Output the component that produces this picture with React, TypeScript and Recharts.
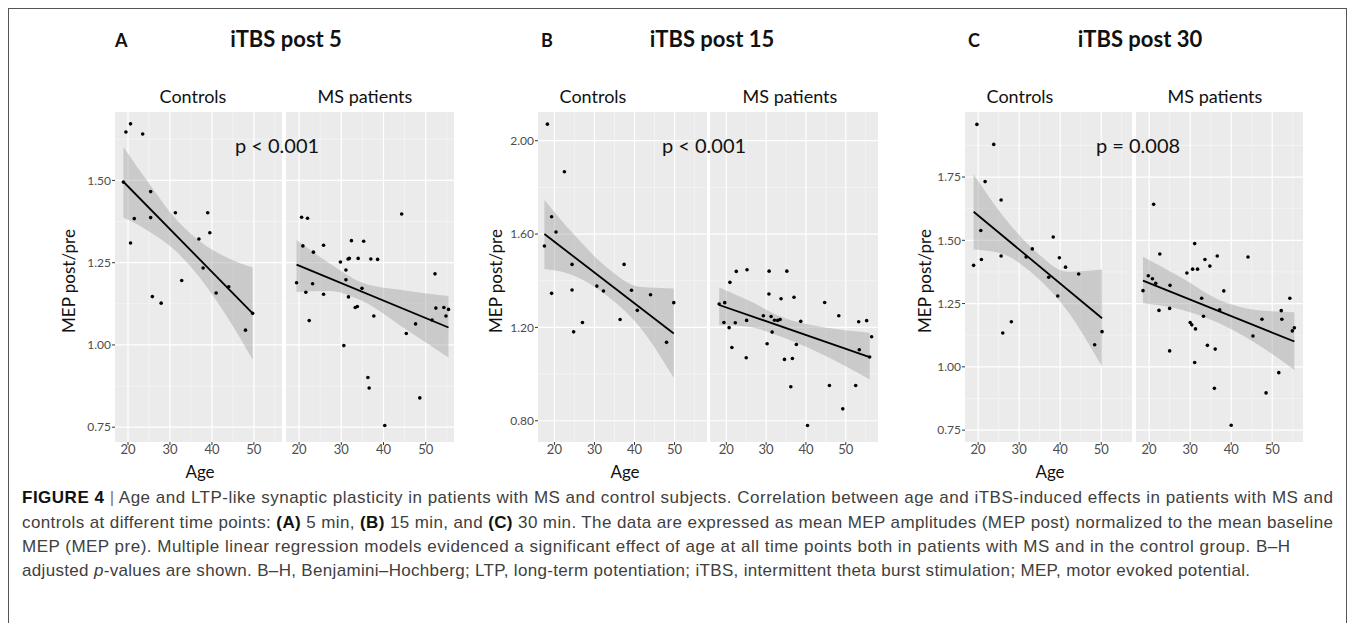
import React from 'react'
import { ComposedChart, Area, Line, Scatter, XAxis, YAxis, CartesianGrid } from 'recharts'

// shared axis ticks
const xTicks = [20, 30, 40, 50]
const xMinor = [25, 35, 45, 55]

// Panel A - iTBS post 5
const aTicks = [0.75, 1.0, 1.25, 1.5]
const aMinor = [0.875, 1.125, 1.375, 1.625]
const aCtrlAge = [19.5, 20.6, 23.5, 18.9, 21.5, 20.6, 25.4, 25.4, 25.8, 27.9, 31.3, 32.8, 36.9, 37.9, 39.0, 39.5, 41.0, 44.0, 48.0, 49.7]
const aCtrlMep = [1.647, 1.672, 1.641, 1.495, 1.384, 1.31, 1.466, 1.387, 1.147, 1.127, 1.402, 1.196, 1.322, 1.234, 1.402, 1.341, 1.158, 1.177, 1.045, 1.096]
const aCtrlBandAge = [18.9, 25.4, 31.3, 37.4, 43.8, 49.7]
const aCtrlBandLo = [1.387, 1.342, 1.286, 1.2, 1.082, 0.955]
const aCtrlBandHi = [1.602, 1.484, 1.384, 1.312, 1.264, 1.235]
const aCtrlFit = [1.496, 1.096]
const aMsAge = [20.6, 22.0, 20.9, 19.4, 21.6, 22.4, 23.4, 23.2, 25.8, 25.8, 29.8, 30.6, 31.1, 31.1, 31.6, 31.9, 31.7, 32.4, 33.3, 33.8, 34.0, 34.9, 35.3, 36.3, 36.6, 37.0, 37.7, 38.6, 40.3, 44.3, 45.4, 47.6, 48.6, 52.2, 52.4, 54.3, 54.8, 55.4, 51.5]
const aMsMep = [1.388, 1.385, 1.301, 1.189, 1.16, 1.074, 1.282, 1.186, 1.303, 1.154, 1.252, 0.998, 1.228, 1.198, 1.261, 1.263, 1.146, 1.317, 1.114, 1.117, 1.263, 1.172, 1.315, 0.901, 0.869, 1.261, 1.088, 1.26, 0.755, 1.398, 1.035, 1.064, 0.839, 1.216, 1.112, 1.114, 1.088, 1.108, 1.076]
const aMsBandAge = [19.4, 27.0, 34.9, 44.3, 55.4]
const aMsBandLo = [1.161, 1.164, 1.134, 1.056, 0.962]
const aMsBandHi = [1.319, 1.25, 1.19, 1.167, 1.149]
const aMsFit = [1.244, 1.053]

// Panel B - iTBS post 15
const bTicks = [0.8, 1.2, 1.6, 2.0]
const bMinor = [1.0, 1.4, 1.8]
const bCtrlAge = [18.25, 22.5, 17.5, 19.3, 20.4, 19.3, 24.4, 24.4, 24.8, 27.0, 30.6, 32.25, 36.4, 37.4, 39.25, 40.7, 44.0, 48.0, 49.8]
const bCtrlMep = [2.071, 1.867, 1.549, 1.674, 1.609, 1.346, 1.47, 1.36, 1.181, 1.221, 1.377, 1.356, 1.234, 1.47, 1.359, 1.273, 1.34, 1.136, 1.306]
const bCtrlBandAge = [17.5, 24.6, 32.9, 41.25, 49.8]
const bCtrlBandLo = [1.45, 1.424, 1.339, 1.203, 0.984]
const bCtrlBandHi = [1.746, 1.603, 1.46, 1.374, 1.367]
const bCtrlFit = [1.6, 1.174]
const bMsAge = [18.2, 19.6, 20.9, 19.4, 20.7, 22.25, 21.4, 22.5, 25.2, 25.1, 25.0, 29.3, 30.25, 30.7, 30.75, 31.25, 31.5, 32.1, 32.9, 33.5, 33.75, 34.6, 35.2, 36.6, 37.0, 37.6, 36.2, 38.7, 40.4, 44.7, 45.9, 48.25, 49.25, 52.5, 53.25, 53.4, 55.25, 56.0, 56.5]
const bMsMep = [1.3, 1.306, 1.393, 1.221, 1.199, 1.22, 1.114, 1.44, 1.447, 1.23, 1.07, 1.25, 1.13, 1.343, 1.441, 1.247, 1.18, 1.231, 1.23, 1.234, 1.323, 1.063, 1.441, 1.067, 1.329, 1.127, 0.946, 1.226, 0.78, 1.307, 0.951, 1.25, 0.851, 0.951, 1.224, 1.104, 1.229, 1.073, 1.16]
const bMsBandAge = [18.2, 25.4, 33.75, 46.25, 56.0]
const bMsBandLo = [1.21, 1.203, 1.16, 1.067, 0.977]
const bMsBandHi = [1.371, 1.317, 1.246, 1.196, 1.177]
const bMsFit = [1.296, 1.073]

// Panel C - iTBS post 30
const cTicks = [0.75, 1.0, 1.25, 1.5, 1.75]
const cMinor = [0.875, 1.125, 1.375, 1.625, 1.875]
const cCtrlAge = [19.7, 23.8, 21.7, 25.6, 18.9, 20.65, 20.8, 25.6, 26.0, 28.1, 31.7, 33.2, 37.2, 38.3, 39.4, 39.8, 41.3, 44.5, 48.4, 50.2]
const cCtrlMep = [1.958, 1.879, 1.732, 1.659, 1.401, 1.539, 1.424, 1.438, 1.134, 1.178, 1.434, 1.466, 1.354, 1.513, 1.28, 1.431, 1.394, 1.367, 1.087, 1.139]
const cCtrlBandAge = [18.9, 25.6, 33.7, 41.9, 50.2]
const cCtrlBandLo = [1.464, 1.448, 1.363, 1.218, 1.001]
const cCtrlBandHi = [1.761, 1.606, 1.461, 1.376, 1.385]
const cCtrlFit = [1.613, 1.192]
const cMsAge = [21.1, 18.5, 19.8, 20.8, 21.6, 22.6, 22.4, 25.1, 25.0, 25.0, 29.2, 30.0, 30.4, 30.6, 31.1, 31.3, 31.1, 31.8, 32.8, 33.25, 33.6, 34.2, 34.8, 35.9, 36.1, 36.6, 37.2, 38.2, 40.0, 44.1, 45.3, 47.5, 48.5, 51.6, 52.2, 52.35, 54.3, 54.9, 55.4]
const cMsMep = [1.642, 1.301, 1.36, 1.348, 1.33, 1.446, 1.223, 1.322, 1.231, 1.063, 1.371, 1.175, 1.166, 1.386, 1.487, 1.15, 1.017, 1.386, 1.271, 1.2, 1.424, 1.085, 1.398, 0.915, 1.07, 1.438, 1.225, 1.3, 0.769, 1.434, 1.122, 1.188, 0.897, 0.977, 1.222, 1.188, 1.271, 1.142, 1.154]
const cMsBandAge = [18.5, 28.1, 37.1, 46.0, 55.4]
const cMsBandLo = [1.251, 1.225, 1.172, 1.093, 0.988]
const cMsBandHi = [1.435, 1.35, 1.264, 1.225, 1.216]
const cMsFit = [1.341, 1.1]

const captionLines = [
  'Age and LTP-like synaptic plasticity in patients with MS and control subjects. Correlation between age and iTBS-induced effects in patients with MS and',
  'controls at different time points: ',
  'MEP (MEP pre). Multiple linear regression models evidenced a significant effect of age at all time points both in patients with MS and in the control group. B–H',
  'adjusted ',
]

const PLOT_TOP = 112
const PLOT_H = 330
const X_AXIS_H = 22
const Y_AXIS_W = 40
const FONT = 'Lato, "Open Sans", sans-serif'
const CAP_FONT = '"Liberation Sans", Arial, sans-serif'

const Dot = (props: any) => <circle cx={props.cx} cy={props.cy} r={1.8} fill="#000" />

type FacetProps = {
  plotLeft: number
  plotWidth: number
  xDomain: [number, number]
  yDomain: [number, number]
  yTicks: number[]
  yMinor: number[]
  age: number[]
  mep: number[]
  bandAge: number[]
  bandLo: number[]
  bandHi: number[]
  fit: number[]
  showY: boolean
}

function Facet(p: FacetProps) {
  const points = p.age.map((a, i) => ({ x: a, y: p.mep[i] }))
  const last = p.bandAge.length - 1
  const rows = p.bandAge.map((a, i) => ({
    x: a,
    band: [p.bandLo[i], p.bandHi[i]],
    fit: i === 0 ? p.fit[0] : i === last ? p.fit[1] : undefined,
  }))
  const yw = p.showY ? Y_AXIS_W : 0
  const tickStyle = { fill: '#4d4d4d', fontSize: 13, fontFamily: FONT }
  return (
    <div style={{ position: 'absolute', left: p.plotLeft - yw - 8, top: PLOT_TOP - 8 }}>
      <ComposedChart
        width={p.plotWidth + yw}
        height={PLOT_H + X_AXIS_H}
        data={rows}
        margin={{ top: 0, right: 0, bottom: 0, left: 0 }}
      >
        <CartesianGrid
          fill="#ebebeb"
          fillOpacity={1}
          stroke="#f8f8f8"
          strokeWidth={0.6}
          horizontalValues={p.yMinor}
          verticalValues={xMinor}
        />
        <CartesianGrid stroke="#ffffff" strokeWidth={1.2} horizontalValues={p.yTicks} verticalValues={xTicks} />
        <XAxis
          type="number"
          dataKey="x"
          domain={p.xDomain}
          ticks={xTicks}
          interval={0}
          allowDataOverflow
          height={X_AXIS_H}
          axisLine={false}
          tickSize={3}
          tickMargin={0}
          tickLine={{ stroke: '#333333' }}
          tick={tickStyle}
        />
        <YAxis
          type="number"
          domain={p.yDomain}
          ticks={p.yTicks}
          interval={0}
          allowDataOverflow
          hide={!p.showY}
          width={yw}
          axisLine={false}
          tickSize={3}
          tickMargin={1}
          tickLine={{ stroke: '#333333' }}
          tick={{ ...tickStyle, fontSize: 12 }}
          tickFormatter={(v: number) => v.toFixed(2)}
        />
        <Area
          dataKey="band"
          type="monotone"
          stroke="none"
          fill="#999999"
          fillOpacity={0.4}
          isAnimationActive={false}
        />
        <Line
          dataKey="fit"
          type="linear"
          connectNulls
          stroke="#000"
          strokeWidth={1.8}
          dot={false}
          isAnimationActive={false}
        />
        <Scatter data={points} dataKey="y" shape={Dot} isAnimationActive={false} />
      </ComposedChart>
    </div>
  )
}

function Label({ x, y, size, bold, anchor = 'middle', children }: any) {
  return (
    <text x={x} y={y} fontSize={size} fontWeight={bold ? 700 : 400} textAnchor={anchor} fill="#111" fontFamily={FONT}>
      {children}
    </text>
  )
}

function YTitle({ x }: { x: number }) {
  return (
    <text
      transform={`translate(${x}, 281) rotate(-90)`}
      textAnchor="middle"
      dy="0.35em"
      fontSize={17}
      fill="#111"
      fontFamily={FONT}
    >
      MEP post/pre
    </text>
  )
}

export default function App() {
  return (
    <div style={{ position: 'relative', width: 1339, height: 615 }}>
      <style>{'html,body{overflow:hidden}'}</style>
      {/* A */}
      <Facet plotLeft={115} plotWidth={167} xDomain={[16.9, 56.7]} yDomain={[0.705, 1.708]} yTicks={aTicks} yMinor={aMinor}
        age={aCtrlAge} mep={aCtrlMep} bandAge={aCtrlBandAge} bandLo={aCtrlBandLo} bandHi={aCtrlBandHi} fit={aCtrlFit} showY />
      <Facet plotLeft={286} plotWidth={168} xDomain={[16.9, 56.7]} yDomain={[0.705, 1.708]} yTicks={aTicks} yMinor={aMinor}
        age={aMsAge} mep={aMsMep} bandAge={aMsBandAge} bandLo={aMsBandLo} bandHi={aMsBandHi} fit={aMsFit} showY={false} />
      {/* B */}
      <Facet plotLeft={538} plotWidth={169} xDomain={[15.9, 58.1]} yDomain={[0.709, 2.123]} yTicks={bTicks} yMinor={bMinor}
        age={bCtrlAge} mep={bCtrlMep} bandAge={bCtrlBandAge} bandLo={bCtrlBandLo} bandHi={bCtrlBandHi} fit={bCtrlFit} showY />
      <Facet plotLeft={710} plotWidth={168} xDomain={[15.9, 58.1]} yDomain={[0.709, 2.123]} yTicks={bTicks} yMinor={bMinor}
        age={bMsAge} mep={bMsMep} bandAge={bMsBandAge} bandLo={bMsBandLo} bandHi={bMsBandHi} fit={bMsFit} showY={false} />
      {/* C */}
      <Facet plotLeft={965} plotWidth={167} xDomain={[16.8, 57.5]} yDomain={[0.703, 2.007]} yTicks={cTicks} yMinor={cMinor}
        age={cCtrlAge} mep={cCtrlMep} bandAge={cCtrlBandAge} bandLo={cCtrlBandLo} bandHi={cCtrlBandHi} fit={cCtrlFit} showY />
      <Facet plotLeft={1136} plotWidth={167} xDomain={[16.8, 57.5]} yDomain={[0.703, 2.007]} yTicks={cTicks} yMinor={cMinor}
        age={cMsAge} mep={cMsMep} bandAge={cMsBandAge} bandLo={cMsBandLo} bandHi={cMsBandHi} fit={cMsFit} showY={false} />

      <svg
        width={1355}
        height={631}
        style={{ position: 'absolute', left: -8, top: -8, pointerEvents: 'none' }}
      >
        <rect x={8.5} y={8.5} width={1338} height={700} fill="none" stroke="#555" strokeWidth={1} />

        <Label x={115} y={47} size={18} bold anchor="start">A</Label>
        <Label x={286} y={47} size={22} bold>iTBS post 5</Label>
        <Label x={541} y={47} size={18} bold anchor="start">B</Label>
        <Label x={712} y={47} size={22} bold>iTBS post 15</Label>
        <Label x={968} y={47} size={18} bold anchor="start">C</Label>
        <Label x={1140} y={47} size={22} bold>iTBS post 30</Label>

        <Label x={193} y={103} size={18}>Controls</Label>
        <Label x={365} y={103} size={18}>MS patients</Label>
        <Label x={593} y={103} size={18}>Controls</Label>
        <Label x={790} y={103} size={18}>MS patients</Label>
        <Label x={1020} y={103} size={18}>Controls</Label>
        <Label x={1215} y={103} size={18}>MS patients</Label>

        <Label x={277} y={153} size={20}>p &lt; 0.001</Label>
        <Label x={704} y={153} size={20}>p &lt; 0.001</Label>
        <Label x={1138} y={153} size={20}>p = 0.008</Label>

        <YTitle x={69} />
        <YTitle x={496} />
        <YTitle x={925} />

        <Label x={200} y={478} size={17}>Age</Label>
        <Label x={625} y={478} size={17}>Age</Label>
        <Label x={1050} y={478} size={17}>Age</Label>

        <g fontFamily={CAP_FONT} fontSize={17} fill="#404040">
          <text x={22} y={503} textLength={1311} lengthAdjust="spacing">
            <tspan fontWeight={700} fill="#111">FIGURE 4</tspan>
            <tspan fill="#777"> | </tspan>
            {captionLines[0]}
          </text>
          <text x={22} y={527.5} textLength={1311} lengthAdjust="spacing">
            {captionLines[1]}
            <tspan fontWeight={700} fill="#111">(A)</tspan> 5 min, <tspan fontWeight={700} fill="#111">(B)</tspan> 15 min, and{' '}
            <tspan fontWeight={700} fill="#111">(C)</tspan> 30 min. The data are expressed as mean MEP amplitudes (MEP post)
            normalized to the mean baseline
          </text>
          <text x={22} y={552} textLength={1268} lengthAdjust="spacing">
            {captionLines[2]}
          </text>
          <text x={22} y={576} textLength={1228} lengthAdjust="spacing">
            {captionLines[3]}
            <tspan fontStyle="italic">p</tspan>-values are shown. B–H, Benjamini–Hochberg; LTP, long-term potentiation; iTBS,
            intermittent theta burst stimulation; MEP, motor evoked potential.
          </text>
        </g>
      </svg>
    </div>
  )
}
